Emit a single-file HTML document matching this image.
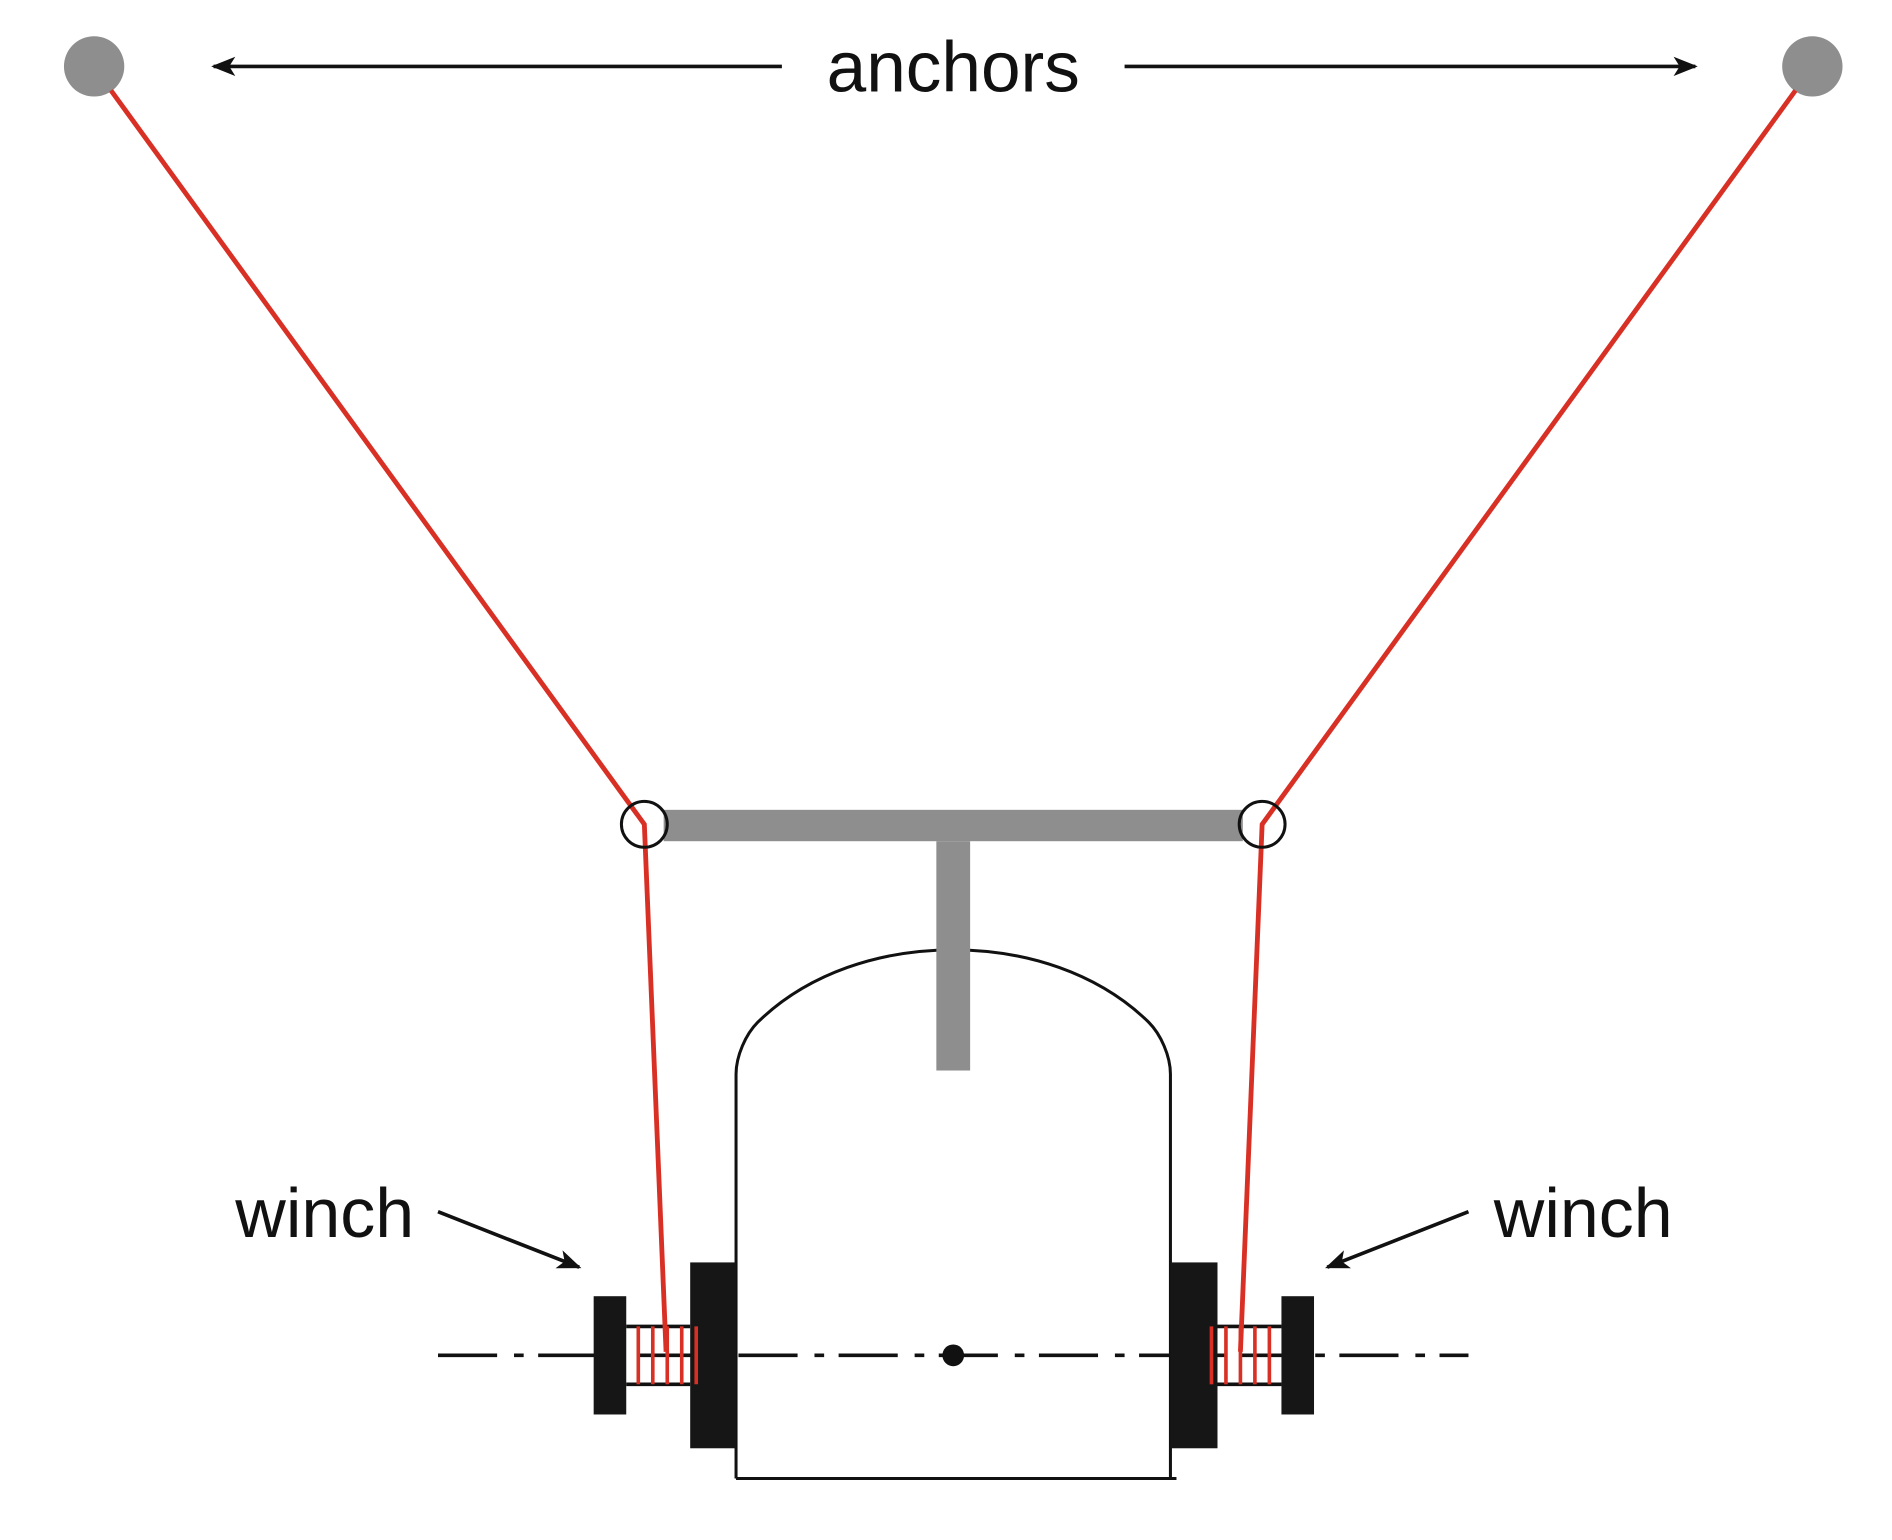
<!DOCTYPE html>
<html><head><meta charset="utf-8"><style>html,body{margin:0;padding:0;background:#fff}svg{display:block}</style></head>
<body>
<svg width="1892" height="1540" viewBox="0 0 1568 1276" preserveAspectRatio="none" xmlns="http://www.w3.org/2000/svg">
<defs>
<marker id="ah" viewBox="0 0 20 16" refX="18" refY="8" markerWidth="20" markerHeight="16" markerUnits="userSpaceOnUse" orient="auto">
<path d="M0,0 L20,8 L0,16 L5,8 Z" fill="#111"/>
</marker>
</defs>
<rect width="1568" height="1276" fill="#fff"/>
<g>
<line x1="648" y1="55" x2="177" y2="55" stroke="#111" stroke-width="3" marker-end="url(#ah)"/>
<line x1="932" y1="55" x2="1405" y2="55" stroke="#111" stroke-width="3" marker-end="url(#ah)"/>
<text x="790" y="76" text-anchor="middle" font-family="Liberation Sans, sans-serif" font-size="59" fill="#111">anchors</text>
</g>
<circle cx="78" cy="55" r="25" fill="#8e8e8e"/>
<circle cx="1502" cy="55" r="25" fill="#8e8e8e"/>
<rect x="550" y="671" width="480" height="26" fill="#8e8e8e"/>
<path d="M610,1225 L610,890 C610,875 618,857 628,847 C670,806 730,787 790,787 C850,787 910,806 952,847 C962,857 970,875 970,890 L970,1225 M610,1225 L975,1225" fill="#fff" stroke="#111" stroke-width="2.5"/>
<rect x="776" y="697" width="28" height="190" fill="#8e8e8e"/>
<line x1="363" y1="1123" x2="1217" y2="1123" stroke="#111" stroke-width="3" stroke-dasharray="49 14 8 12"/>
<circle cx="790" cy="1123" r="9" fill="#111"/>
<rect x="572" y="1046" width="38" height="154" fill="#161616"/>
<rect x="970" y="1046" width="39" height="154" fill="#161616"/>
<rect x="492" y="1074" width="27" height="98" fill="#161616"/>
<rect x="1062" y="1074" width="27" height="98" fill="#161616"/>
<g stroke="#111" stroke-width="3">
<line x1="519" y1="1099" x2="572" y2="1099"/><line x1="519" y1="1147" x2="572" y2="1147"/>
<line x1="1009" y1="1099" x2="1062" y2="1099"/><line x1="1009" y1="1147" x2="1062" y2="1147"/>
</g>
<g stroke="#d93025" stroke-width="3">
<line x1="529" y1="1099" x2="529" y2="1147"/><line x1="541" y1="1099" x2="541" y2="1147"/><line x1="553" y1="1099" x2="553" y2="1147"/><line x1="565" y1="1099" x2="565" y2="1147"/><line x1="577" y1="1099" x2="577" y2="1147"/>
<line x1="1004" y1="1099" x2="1004" y2="1147"/><line x1="1016" y1="1099" x2="1016" y2="1147"/><line x1="1028" y1="1099" x2="1028" y2="1147"/><line x1="1040" y1="1099" x2="1040" y2="1147"/><line x1="1052" y1="1099" x2="1052" y2="1147"/>
</g>
<polyline points="92,75 534,683 552,1120" fill="none" stroke="#d93025" stroke-width="4"/>
<polyline points="1488,75 1046,683 1028,1120" fill="none" stroke="#d93025" stroke-width="4"/>
<circle cx="534" cy="683" r="19" fill="none" stroke="#111" stroke-width="2.5"/>
<circle cx="1046" cy="683" r="19" fill="none" stroke="#111" stroke-width="2.5"/>
<text x="195" y="1025" font-family="Liberation Sans, sans-serif" font-size="58" fill="#111">winch</text>
<text x="1238" y="1025" font-family="Liberation Sans, sans-serif" font-size="58" fill="#111">winch</text>
<line x1="363" y1="1004" x2="480" y2="1050" stroke="#111" stroke-width="3" marker-end="url(#ah)"/>
<line x1="1217" y1="1004" x2="1100" y2="1050" stroke="#111" stroke-width="3" marker-end="url(#ah)"/>
</svg>
</body></html>
